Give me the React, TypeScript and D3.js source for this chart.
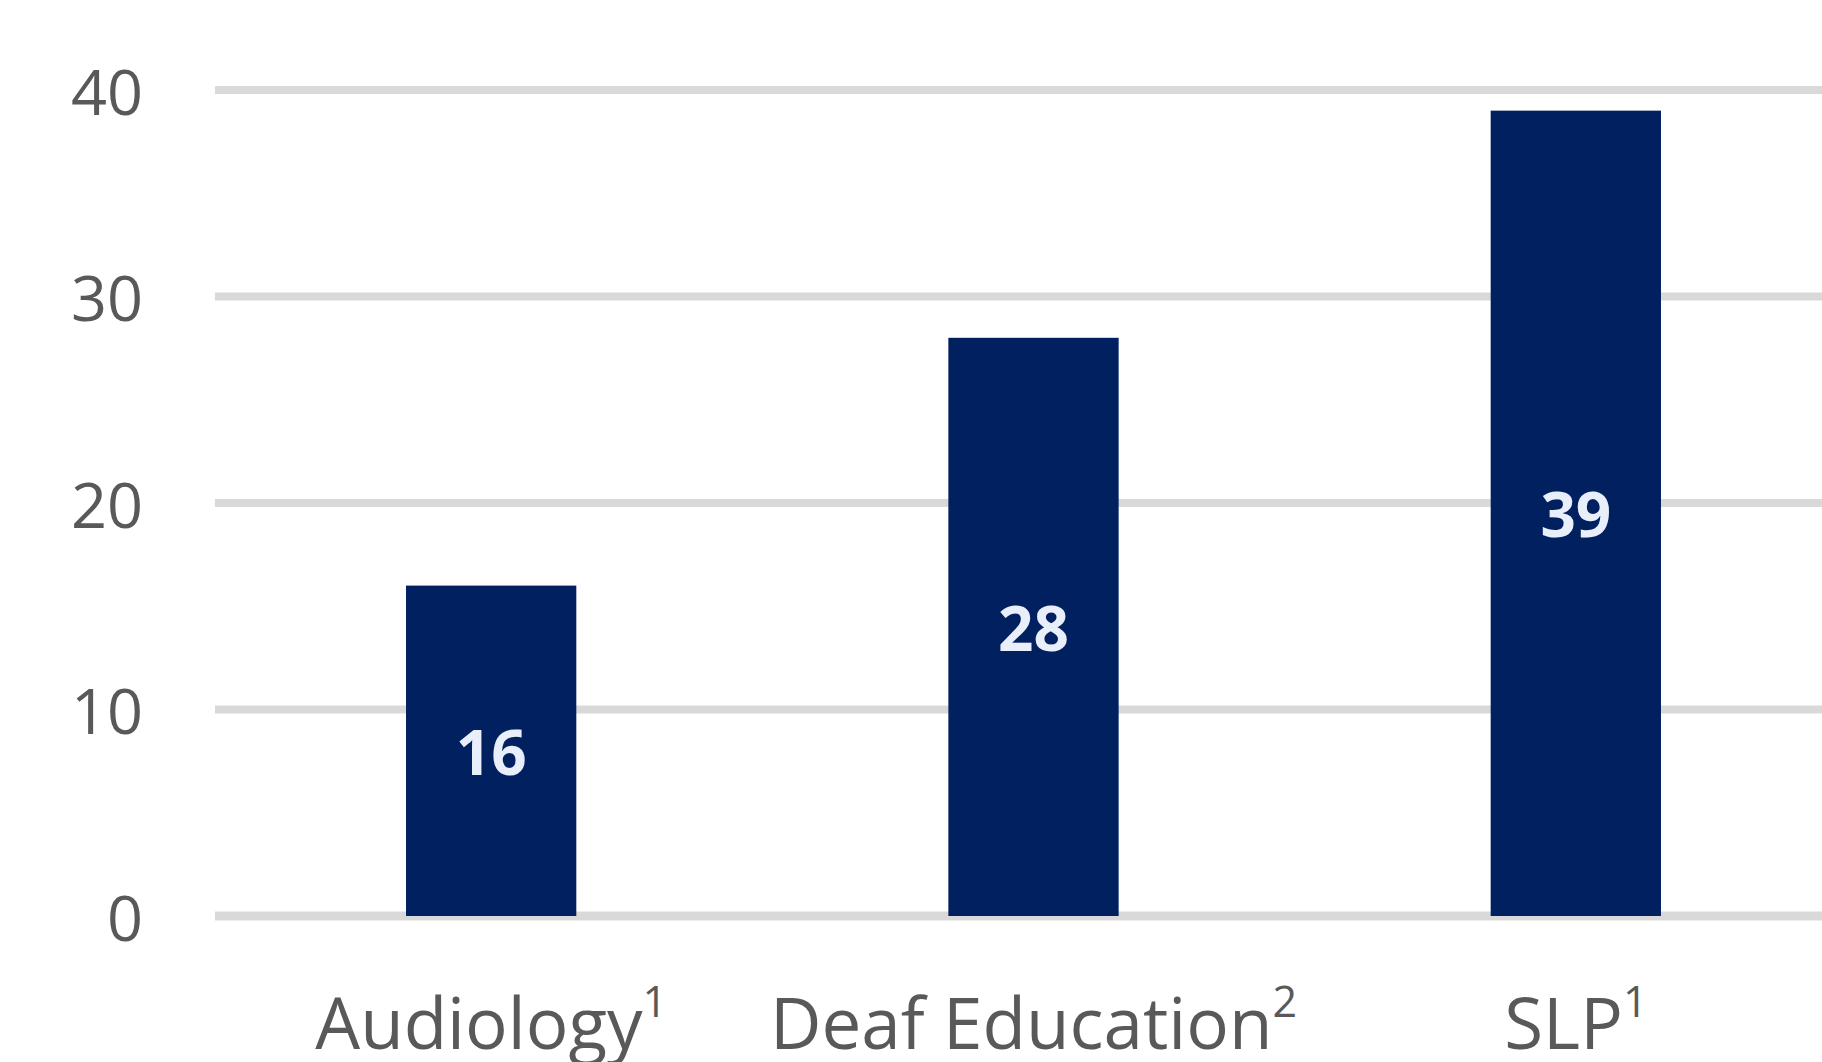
import React from "react";
import * as d3 from "d3";

const categories = ["Audiology", "Deaf Education", "SLP"];
const footnotes = ["1", "2", "1"];
const values = [16, 28, 39];
const yTicks = [0, 10, 20, 30, 40];

const W = 1822;
const H = 1062;
const FONT = "'Open Sans', 'Noto Sans', sans-serif";

export default function App() {
  const x = d3
    .scaleBand<string>()
    .domain(categories)
    .range([220, 1847])
    .paddingInner(0.686)
    .paddingOuter(0.343);
  const y = d3.scaleLinear().domain([0, 40]).range([916, 90]);

  return (
    <svg
      width={W}
      height={H}
      style={{ position: "absolute", left: 0, top: 0, background: "#ffffff" }}
    >
      <rect x={0} y={0} width={W} height={H} fill="#ffffff" />
      {yTicks.map((t) => (
        <g key={t}>
          <line
            x1={215}
            x2={W}
            y1={y(t)}
            y2={y(t)}
            stroke="#d9d9d9"
            strokeWidth={t === 0 ? 9 : 8}
          />
          <text
            x={143}
            y={y(t)}
            textAnchor="end"
            dominantBaseline="central"
            fontFamily={FONT}
            fontSize={63}
            fill="#595959"
          >
            {t}
          </text>
        </g>
      ))}
      {categories.map((c, i) => {
        const bx = x(c) as number;
        const bw = x.bandwidth();
        const top = y(values[i]);
        const bottom = y(0);
        return (
          <g key={c}>
            <rect x={bx} y={top} width={bw} height={bottom - top} fill="#002060" />
            <text
              x={bx + bw / 2}
              y={(top + bottom) / 2}
              textAnchor="middle"
              dominantBaseline="central"
              fontFamily={FONT}
              fontWeight={700}
              fontSize={62}
              fill="#e8eefa"
            >
              {values[i]}
            </text>
            <text
              x={bx + bw / 2}
              y={1049}
              textAnchor="middle"
              fontFamily={FONT}
              fontSize={71}
              fill="#595959"
            >
              {c}
              <tspan fontSize={43} dy={-32}>
                {footnotes[i]}
              </tspan>
            </text>
          </g>
        );
      })}
    </svg>
  );
}
